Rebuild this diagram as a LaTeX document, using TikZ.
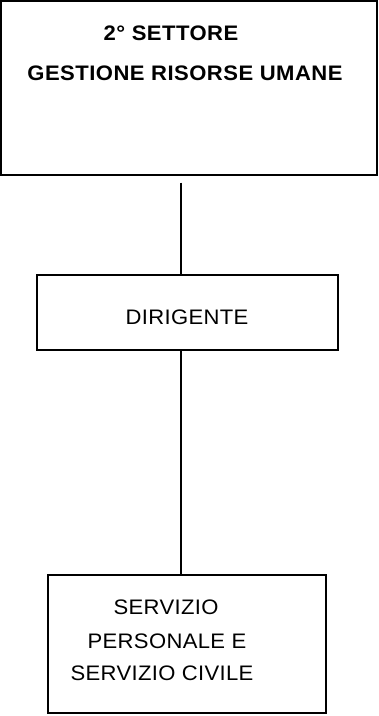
\documentclass[tikz,border=0pt]{standalone}
\usepackage{fontspec}
\setmainfont{Liberation Sans}
\newfontfamily\fonttesto[LetterSpace=1.6, FakeStretch=1.05]{Liberation Sans}
\newfontfamily\fonttitolo[LetterSpace=2.2, FakeStretch=1.05]{Liberation Sans}
\usepackage{tikz}
\tikzset{
  riquadro/.style={draw, rectangle, line width=1.3pt, inner sep=0pt},
  testo/.style={inner sep=0pt, font=\fonttesto\fontsize{21}{25}\selectfont},
  titolo/.style={inner sep=0pt, font=\fonttitolo\bfseries\fontsize{21}{25}\selectfont},
  collegamento/.style={line width=1.3pt}
}
\begin{document}
\begin{tikzpicture}[x=1pt, y=-1pt]
    \useasboundingbox (0,0) rectangle (379,716);
    % Riquadri
    \node[riquadro, minimum width=376pt, minimum height=174pt] (Settore) at (189,88) {};
    \node[riquadro, minimum width=301pt, minimum height=75pt] (Dirigente) at (187.5,312.5) {};
    \node[riquadro, minimum width=278pt, minimum height=138pt] (Servizio) at (187,644) {};

    % Testi
    \node[titolo] (SettoreUno) at (171,33) {2° SETTORE};
    \node[titolo] (SettoreDue) at (185,73) {GESTIONE RISORSE UMANE};
    \node[testo] (DirigenteTesto) at (187,317) {DIRIGENTE};
    \node[testo] (ServizioUno) at (166,607) {SERVIZIO};
    \node[testo] (ServizioDue) at (167,641) {PERSONALE E};
    \node[testo] (ServizioTre) at (162,673) {SERVIZIO CIVILE};

    % Collegamenti
    \coordinate (Asse) at (181,0);
    \draw[collegamento, shorten <=7pt] (Settore.south -| Asse) -- (Dirigente.north -| Asse);
    \draw[collegamento] (Dirigente.south -| Asse) -- (Servizio.north -| Asse);
\end{tikzpicture}
\end{document}
